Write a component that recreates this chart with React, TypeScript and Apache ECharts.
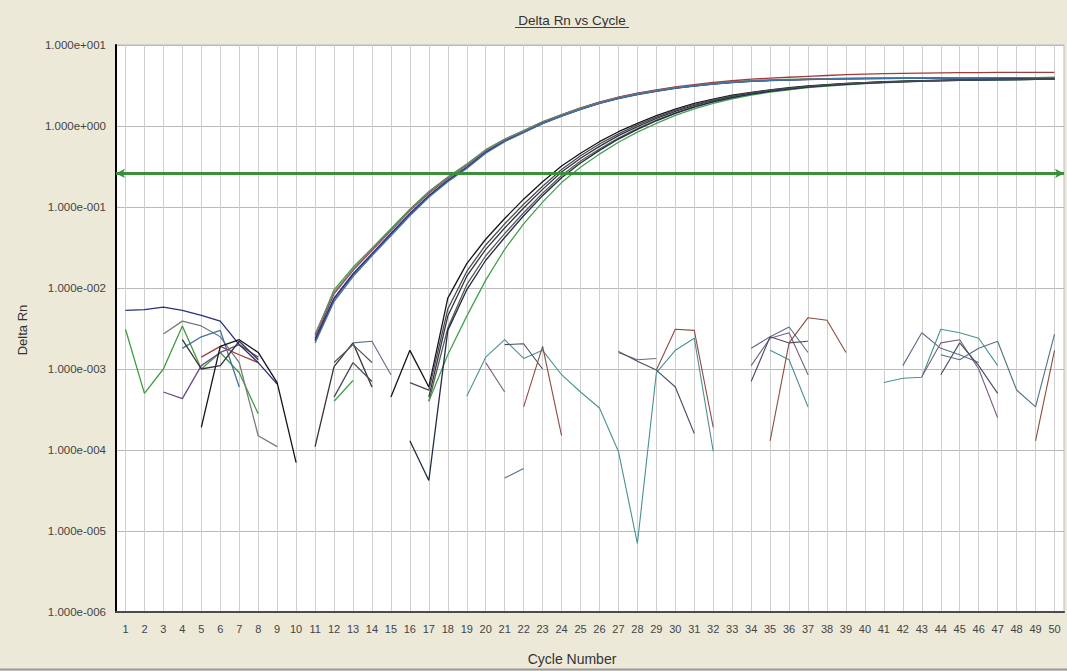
import React, { useEffect, useRef } from "react";
import * as echarts from "echarts";

const _ = null;

const cycles: string[] = Array.from({ length: 50 }, (_v, i) => String(i + 1));
const threshold = 0.264;

// Early group (Ct ~ 18.5)
const wellA1 = [
  3.1e-3, 5e-4, 1.0e-3, 3.4e-3, 1.0e-3, 1.6e-3, 9e-4, 2.8e-4, _, _,
  2.6e-3, 9.5e-3, 0.018, 0.031, 0.054, 0.094, 0.155, 0.235, 0.34, 0.51,
  0.69, 0.88, 1.13, 1.38, 1.67, 1.97, 2.26, 2.52, 2.76, 3.0,
  3.18, 3.36, 3.52, 3.62, 3.7, 3.76, 3.8, 3.84, 3.87, 3.89,
  3.9, 3.91, 3.92, 3.93, 3.94, 3.95, 3.95, 3.96, 3.96, 3.97,
];
const wellA2 = [
  _, _, _, _, 1.4e-3, 1.9e-3, 1.5e-3, 1.2e-3, _, _,
  2.4e-3, 8.5e-3, 0.0165, 0.029, 0.051, 0.09, 0.148, 0.225, 0.325, 0.49,
  0.67, 0.86, 1.11, 1.37, 1.66, 1.97, 2.27, 2.55, 2.8, 3.05,
  3.25, 3.45, 3.62, 3.78, 3.9, 4.0, 4.1, 4.2, 4.3, 4.36,
  4.42, 4.46, 4.5, 4.53, 4.55, 4.57, 4.58, 4.59, 4.6, 4.6,
];
const wellA3 = [
  _, _, 5.2e-4, 4.3e-4, 1.1e-3, 1.6e-3, 2.0e-3, 1.4e-3, _, _,
  2.2e-3, 7.2e-3, 0.0145, 0.026, 0.046, 0.081, 0.136, 0.21, 0.305, 0.47,
  0.65, 0.84, 1.08, 1.33, 1.62, 1.92, 2.21, 2.48, 2.72, 2.96,
  3.14, 3.32, 3.48, 3.58, 3.66, 3.72, 3.77, 3.81, 3.84, 3.86,
  3.88, 3.89, 3.9, 3.91, 3.92, 3.93, 3.94, 3.94, 3.95, 3.95,
];
const wellA4 = [
  5.3e-3, 5.4e-3, 5.8e-3, 5.3e-3, 4.6e-3, 3.9e-3, 2.0e-3, 1.2e-3, 6.5e-4, _,
  2.3e-3, 7.5e-3, 0.015, 0.0265, 0.047, 0.083, 0.139, 0.214, 0.31, 0.475,
  0.65, 0.84, 1.08, 1.32, 1.6, 1.9, 2.18, 2.44, 2.68, 2.92,
  3.1, 3.28, 3.44, 3.55, 3.63, 3.7, 3.75, 3.79, 3.82, 3.84,
  3.86, 3.87, 3.88, 3.89, 3.9, 3.9, 3.91, 3.91, 3.92, 3.92,
];
const wellA5 = [
  _, _, 2.7e-3, 3.9e-3, 3.4e-3, 2.5e-3, 1.2e-3, 1.5e-4, 1.1e-4, _,
  2.7e-3, 8.8e-3, 0.017, 0.03, 0.052, 0.092, 0.152, 0.23, 0.33, 0.5,
  0.68, 0.87, 1.12, 1.37, 1.65, 1.95, 2.24, 2.5, 2.74, 2.98,
  3.16, 3.34, 3.5, 3.6, 3.68, 3.74, 3.79, 3.83, 3.86, 3.88,
  3.9, 3.91, 3.92, 3.93, 3.94, 3.95, 3.95, 3.96, 3.96, 3.97,
];
const wellA6 = [
  _, _, _, 1.8e-3, 2.5e-3, 3.0e-3, 6e-4, _, _, _,
  2.1e-3, 6.8e-3, 0.0138, 0.025, 0.044, 0.078, 0.132, 0.205, 0.298, 0.46,
  0.64, 0.83, 1.07, 1.32, 1.6, 1.9, 2.19, 2.46, 2.7, 2.94,
  3.12, 3.3, 3.46, 3.57, 3.65, 3.71, 3.76, 3.8, 3.83, 3.85,
  3.87, 3.88, 3.89, 3.9, 3.91, 3.92, 3.92, 3.93, 3.93, 3.94,
];

// Late group (Ct ~ 24)
const wellB1 = [
  _, _, _, _, 1.9e-4, 1.9e-3, 2.3e-3, 1.6e-3, 6.8e-4, 7e-5,
  _, _, _, _, 4.5e-4, 1.7e-3, 6e-4, 7.5e-3, 0.02, 0.04,
  0.072, 0.125, 0.205, 0.32, 0.46, 0.64, 0.85, 1.08, 1.34, 1.62,
  1.9, 2.15, 2.4, 2.6, 2.8, 2.97, 3.12, 3.24, 3.35, 3.44,
  3.52, 3.58, 3.63, 3.67, 3.7, 3.73, 3.75, 3.77, 3.78, 3.79,
];
const wellB2 = [
  _, _, _, 2.3e-3, 1.0e-3, 1.1e-3, 2.2e-3, 1.3e-3, _, _,
  1.1e-4, 1.07e-3, 2.1e-3, 6e-4, _, _, 4.5e-4, 4.5e-3, 0.014, 0.03,
  0.055, 0.097, 0.165, 0.27, 0.4, 0.56, 0.76, 0.98, 1.24, 1.52,
  1.8, 2.06, 2.32, 2.54, 2.74, 2.92, 3.07, 3.2, 3.31, 3.4,
  3.48, 3.55, 3.6, 3.64, 3.68, 3.71, 3.73, 3.75, 3.77, 3.78,
];
const wellB3 = [
  _, _, _, _, _, _, _, _, _, _,
  _, 1.2e-3, 2.0e-3, 1.2e-3, _, _, 4e-4, 3.2e-3, 0.011, 0.025,
  0.047, 0.085, 0.148, 0.245, 0.37, 0.52, 0.71, 0.93, 1.18, 1.45,
  1.73, 2.0, 2.26, 2.49, 2.7, 2.88, 3.04, 3.17, 3.28, 3.38,
  3.46, 3.53, 3.58, 3.63, 3.67, 3.7, 3.72, 3.74, 3.76, 3.77,
];
const wellB4 = [
  _, _, _, _, _, _, _, _, _, _,
  _, 4e-4, 7.2e-4, _, _, _, 4e-4, 1.5e-3, 4.5e-3, 0.0125,
  0.03, 0.062, 0.115, 0.2, 0.31, 0.45, 0.63, 0.84, 1.08, 1.35,
  1.63, 1.9, 2.17, 2.4, 2.62, 2.8, 2.97, 3.11, 3.23, 3.33,
  3.42, 3.5, 3.56, 3.61, 3.65, 3.69, 3.72, 3.74, 3.76, 3.77,
];
const wellB5 = [
  _, _, _, _, _, _, _, _, _, _,
  _, _, _, _, _, 1.3e-4, 4.2e-5, 3e-3, 0.0095, 0.022,
  0.042, 0.078, 0.138, 0.23, 0.35, 0.5, 0.69, 0.91, 1.16, 1.43,
  1.71, 1.98, 2.24, 2.47, 2.68, 2.86, 3.02, 3.16, 3.27, 3.37,
  3.45, 3.52, 3.58, 3.63, 3.67, 3.7, 3.73, 3.75, 3.77, 3.78,
];
const wellB6 = [
  _, _, _, _, _, _, _, _, _, _,
  _, 4.5e-4, 1.2e-3, 7e-4, _, 6.8e-4, 5.5e-4, 5.5e-3, 0.016, 0.034,
  0.062, 0.108, 0.18, 0.29, 0.43, 0.6, 0.8, 1.03, 1.29, 1.57,
  1.85, 2.1, 2.36, 2.57, 2.77, 2.94, 3.09, 3.22, 3.33, 3.42,
  3.5, 3.56, 3.61, 3.65, 3.69, 3.72, 3.74, 3.76, 3.78, 3.79,
];

// Baseline-only wells (noise)
const wellN1 = [
  _, _, _, _, _, _, _, _, _, _,
  _, _, 2.1e-3, 2.2e-3, 8.5e-4, _, _, _, _, _,
  _, _, _, _, _, _, _, _, _, _,
  _, _, _, 1.8e-3, 2.5e-3, 3.3e-3, 1.6e-3, _, _, _,
  _, 1.1e-3, 2.8e-3, 1.8e-3, 1.5e-3, 1.2e-3, _, _, _, _,
];
const wellN2 = [
  _, _, _, _, _, _, _, _, _, _,
  _, _, _, _, _, _, _, _, 4.6e-4, 1.4e-3,
  2.3e-3, 1.35e-3, 1.7e-3, 8.5e-4, 5.2e-4, 3.3e-4, 9.6e-5, 7e-6, 9e-4, 1.7e-3,
  2.4e-3, 9.6e-5, _, _, 1.7e-3, 1.3e-3, 3.4e-4, _, _, _,
  6.8e-4, 7.7e-4, 7.9e-4, 3.1e-3, 2.8e-3, 2.4e-3, 1.1e-3, _, _, _,
];
const wellN3 = [
  _, _, _, _, _, _, _, _, _, _,
  _, _, _, _, _, _, _, _, _, 1.2e-3,
  5.2e-4, _, _, _, _, _, 1.6e-3, 1.3e-3, 1.35e-3, _,
  _, _, _, 1.1e-3, 2.4e-3, 2.8e-3, 8.5e-4, _, _, _,
  _, _, 8e-4, 2.1e-3, 2.3e-3, 1.0e-3, 2.5e-4, _, _, _,
];
const wellN4 = [
  _, _, _, _, _, _, _, _, _, _,
  _, _, _, _, _, _, _, _, _, _,
  2.0e-3, 2.05e-3, 1.0e-3, _, _, _, 1.65e-3, 1.25e-3, 9.7e-4, 6e-4,
  1.6e-4, _, _, 7e-4, 2.5e-3, 2.1e-3, 2.2e-3, _, _, _,
  _, _, _, 8.5e-4, 2.1e-3, 1.1e-3, 5e-4, _, _, _,
];
const wellN5 = [
  _, _, _, _, _, _, _, _, _, _,
  _, _, _, _, _, _, _, _, _, _,
  _, 3.4e-4, 1.9e-3, 1.5e-4, _, _, _, _, 9.7e-4, 3.1e-3,
  3.0e-3, 1.9e-4, _, _, 1.3e-4, 2.1e-3, 4.3e-3, 4.0e-3, 1.6e-3, _,
  _, _, _, _, _, _, _, _, 1.3e-4, 1.7e-3,
];
const wellN6 = [
  _, _, _, _, _, _, _, _, _, _,
  _, _, _, _, _, _, _, _, _, _,
  4.5e-5, 5.9e-5, _, _, _, _, _, _, _, _,
  _, _, _, _, _, _, _, _, _, _,
  _, _, _, 1.5e-3, 1.3e-3, 1.8e-3, 2.2e-3, 5.5e-4, 3.4e-4, 2.7e-3,
];

const wells = [
  { name: "A1", color: "#3f9d3f", data: wellA1, w: 1.3 },
  { name: "A2", color: "#a03c3c", data: wellA2, w: 1.3 },
  { name: "A3", color: "#6a4a8c", data: wellA3, w: 1.3 },
  { name: "A4", color: "#27307e", data: wellA4, w: 1.3 },
  { name: "A5", color: "#7a7a7a", data: wellA5, w: 1.3 },
  { name: "A6", color: "#3e72a2", data: wellA6, w: 1.3 },
  { name: "B1", color: "#151515", data: wellB1, w: 1.3 },
  { name: "B2", color: "#343434", data: wellB2, w: 1.3 },
  { name: "B3", color: "#5a5a5a", data: wellB3, w: 1.3 },
  { name: "B4", color: "#45a050", data: wellB4, w: 1.3 },
  { name: "B5", color: "#1f2c44", data: wellB5, w: 1.3 },
  { name: "B6", color: "#4a4a5c", data: wellB6, w: 1.3 },
  { name: "N1", color: "#5d6d8a", data: wellN1, w: 1.1 },
  { name: "N2", color: "#4a9292", data: wellN2, w: 1.1 },
  { name: "N3", color: "#7a6082", data: wellN3, w: 1.1 },
  { name: "N4", color: "#4a4a62", data: wellN4, w: 1.1 },
  { name: "N5", color: "#8c4c42", data: wellN5, w: 1.1 },
  { name: "N6", color: "#507282", data: wellN6, w: 1.1 },
];

const FONT = '"Liberation Sans", Arial, sans-serif';

const fmtExp = (v: number) => {
  const e = Math.round(Math.log10(v));
  const s = e < 0 ? "-" : "+";
  return "1.000e" + s + String(Math.abs(e)).padStart(3, "0");
};

export default function App() {
  const ref = useRef<HTMLDivElement>(null);
  useEffect(() => {
    if (!ref.current) return;
    const chart = echarts.init(ref.current, undefined, { renderer: "svg" });
    const series: any[] = wells.map((w, i) => ({
      name: w.name,
      type: "line",
      data: w.data,
      showSymbol: false,
      connectNulls: false,
      lineStyle: { color: w.color, width: w.w },
      itemStyle: { color: w.color },
      silent: true,
      z: 2,
      ...(i === 0
        ? {
            markLine: {
              silent: true,
              symbol: ["arrow", "arrow"],
              symbolSize: [7, 9],
              label: { show: false },
              lineStyle: { color: "#3a8f3a", width: 3, type: "solid" },
              data: [{ yAxis: threshold }],
              z: 10,
            },
          }
        : {}),
    }));
    chart.setOption({
      animation: false,
      backgroundColor: "#ECE9D8",
      grid: {
        left: 116,
        right: 3,
        top: 45,
        bottom: 59,
        show: true,
        backgroundColor: "#ffffff",
        borderColor: "#bdbdbd",
        borderWidth: 1,
      },
      xAxis: {
        type: "category",
        data: cycles,
        boundaryGap: true,
        axisLine: { show: true, lineStyle: { color: "#4a4a4a", width: 2 } },
        axisTick: { show: false },
        axisLabel: { interval: 0, color: "#444", fontSize: 11, margin: 11, fontFamily: FONT },
        splitLine: {
          show: true,
          interval: 0,
          alignWithLabel: true,
          lineStyle: { color: "#cfcfcf", width: 1 },
        },
      },
      yAxis: {
        type: "log",
        logBase: 10,
        min: 1e-6,
        max: 10,
        axisLine: { show: true, lineStyle: { color: "#000", width: 2 } },
        axisTick: { show: false },
        axisLabel: { formatter: fmtExp, color: "#444", fontSize: 11.5, margin: 10, fontFamily: FONT },
        splitLine: { show: true, lineStyle: { color: "#b8b8b8", width: 1 } },
      },
      graphic: [
        {
          type: "text",
          x: 572,
          y: 20,
          style: { text: "Delta Rn vs Cycle", font: `13.5px ${FONT}`, fill: "#333", align: "center", verticalAlign: "middle" },
        },
        {
          type: "line",
          shape: { x1: 515, y1: 27.5, x2: 629, y2: 27.5 },
          style: { stroke: "#444", lineWidth: 1 },
        },
        {
          type: "text",
          x: 572,
          y: 659,
          style: { text: "Cycle Number", font: `14px ${FONT}`, fill: "#333", align: "center", verticalAlign: "middle" },
        },
        {
          type: "text",
          x: 22,
          y: 330,
          rotation: Math.PI / 2,
          style: { text: "Delta Rn", font: `13px ${FONT}`, fill: "#333", align: "center", verticalAlign: "middle" },
        },
        {
          type: "line",
          shape: { x1: 0, y1: 669.5, x2: 1067, y2: 669.5 },
          style: { stroke: "#9a9a9a", lineWidth: 2 },
        },
      ],
      series,
    });
    return () => chart.dispose();
  }, []);
  return <div ref={ref} style={{ position: "fixed", left: 0, top: 0, width: 1067, height: 671 }} />;
}
